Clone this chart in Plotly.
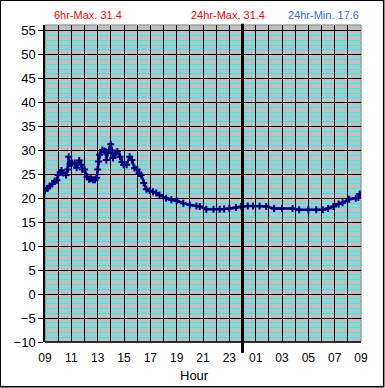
import plotly.graph_objects as go

# Hours since 00:00 of first day (09 -> 33 == 09 next day)
hours = [9.0, 9.2, 9.36, 9.55, 9.74, 9.9, 10.0, 10.15, 10.25, 10.4, 10.6, 10.72, 10.8, 10.9, 11.05, 11.25,
         11.4, 11.6, 11.75, 11.84, 12.0, 12.2, 12.35, 12.5, 12.65, 12.8, 12.92, 13.0, 13.08, 13.15, 13.36,
         13.5, 13.6, 13.66, 13.76, 13.86, 13.99, 14.08, 14.16, 14.37, 14.5, 14.7, 14.85, 14.97, 15.2,
         15.43, 15.6, 15.8, 16.0, 16.15, 16.3, 16.5, 16.7, 16.95, 17.2, 17.45, 17.7, 18.2, 18.6, 19.0,
         19.5, 20.0, 20.5, 20.75, 21.25, 21.8, 22.27, 22.6, 23.0, 23.5, 23.9, 24.4, 24.8, 25.3, 25.8,
         26.4, 27.0, 27.8, 28.3, 29.0, 29.6, 30.1, 30.5, 30.9, 31.3, 31.6, 32.1, 32.6, 32.8, 32.9, 33.0]
temps = [21.6, 22.1, 22.6, 23.0, 23.6, 23.8, 24.9, 25.4, 25.8, 25.3, 24.9, 26.0, 28.7, 27.2, 27.4, 27.4,
         26.4, 27.9, 27.0, 26.0, 26.0, 24.5, 24.0, 24.1, 23.9, 23.9, 24.3, 26.0, 27.7, 29.1, 30.1,
         29.9, 29.8, 28.0, 29.5, 30.1, 31.3, 30.0, 28.4, 29.4, 29.8, 28.7, 27.6, 27.0, 27.0,
         28.7, 28.0, 26.3, 26.0, 25.2, 24.9, 23.2, 21.9, 21.6, 21.4, 21.1, 20.7, 20.0, 19.7, 19.5,
         19.0, 18.6, 18.4, 18.3, 17.7, 17.7, 17.7, 17.8, 17.9, 18.1, 18.3, 18.4, 18.4, 18.4, 18.3,
         17.9, 17.9, 17.9, 17.6, 17.6, 17.6, 17.6, 17.9, 18.3, 18.8, 19.1, 19.8, 20.0, 20.2, 20.9, 20.6]

tick_hours = list(range(9, 34))
tick_labels = ["09", "", "11", "", "13", "", "15", "", "17", "", "19", "", "21", "", "23", "",
               "01", "", "03", "", "05", "", "07", "", "09"]
header_texts = ["6hr-Max. 31.4", "24hr-Max. 31.4", "24hr-Min. 17.6"]
header_colors = ["#FF0000", "#FF0000", "#3366FF"]

FAM = "Liberation Sans, Arial, sans-serif"
L, T, PW, PH = 45.3, 25.3, 316.0, 317.0


def px_x(p):
    return (p - L) / PW


def px_y(p):
    return (T + PH - p) / PH


fig = go.Figure()
fig.add_trace(go.Scatter(
    x=hours, y=temps, mode="lines+markers",
    line=dict(color="#000080", width=2.5),
    marker=dict(symbol="cross-thin", size=5, line=dict(color="#000080", width=2)),
    hoverinfo="skip", showlegend=False))

fig.update_layout(
    width=385, height=388,
    margin=dict(l=45, r=24, t=25, b=46),
    paper_bgcolor="white", plot_bgcolor="#C0C0C0",
    font=dict(family=FAM, size=12, color="black"),
    showlegend=False,
    xaxis=dict(range=[9, 33], tickvals=tick_hours, ticktext=tick_labels,
               showgrid=True, gridcolor="black", gridwidth=1,
               zeroline=False, showline=False, ticks="", ticklen=0,
               ticklabelstandoff=7, tickfont=dict(size=12)),
    yaxis=dict(range=[-10, 56.2], dtick=5, tick0=0,
               showgrid=True, gridcolor="black", gridwidth=1,
               zeroline=False, showline=True, linecolor="black", linewidth=1.5,
               ticks="outside", ticklen=5, tickcolor="black", tickwidth=1,
               tickfont=dict(size=13),
               minor=dict(dtick=1, tick0=0, showgrid=True, gridcolor="#00FFFF", gridwidth=1, ticks="")),
)

shapes = [
    dict(type="rect", xref="paper", yref="paper", x0=0, x1=1, y0=0, y1=1,
         line=dict(color="#808080", width=1), layer="below"),
    dict(type="line", xref="x", yref="paper", x0=24, x1=24, y0=px_y(353), y1=px_y(24),
         line=dict(color="black", width=3)),
    dict(type="rect", xref="paper", yref="paper", x0=px_x(0.5), x1=px_x(384), y0=px_y(387), y1=px_y(0.5),
         line=dict(color="black", width=1.5)),
    dict(type="line", xref="paper", yref="paper", x0=0, x1=1, y0=0, y1=0,
         line=dict(color="black", width=1.5)),
]
fig.update_layout(shapes=shapes)

header_x = [88, 228, 324]
for t, c, px in zip(header_texts, header_colors, header_x):
    fig.add_annotation(text=t, xref="paper", yref="paper",
                       x=px_x(px), y=px_y(15.5), xanchor="center", yanchor="middle",
                       showarrow=False, font=dict(size=11, color=c, family=FAM))
fig.add_annotation(text="Hour", xref="paper", yref="paper",
                   x=px_x(195), y=px_y(376), xanchor="center", yanchor="middle",
                   showarrow=False, font=dict(size=13, color="black", family=FAM))

fig.write_html("out.html", config={"displayModeBar": False},
               post_script="document.body.style.margin='0px';")
